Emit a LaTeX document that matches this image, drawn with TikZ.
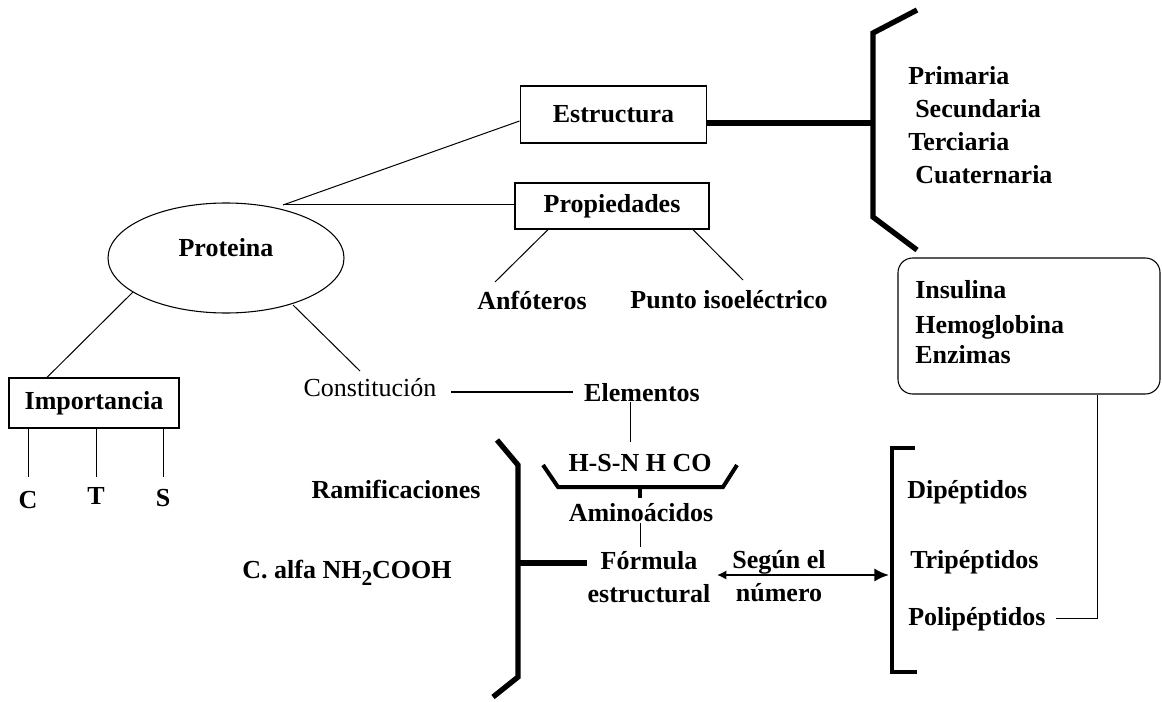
\documentclass[tikz,border=0pt]{standalone}
\usepackage{fontspec}
\setmainfont{Liberation Serif}
\usetikzlibrary{shapes.geometric,arrows.meta}
\begin{document}
\begin{tikzpicture}[x=0.75pt,y=-0.75pt,
  every node/.style={font=\fontsize{19.5}{24.75}\selectfont\bfseries, inner sep=0pt},
  box/.style={draw, line width=0.9pt},
  thinline/.style={line width=0.75pt},
  heavy/.style={line width=4pt},
  bracket/.style={line width=3pt},
  sqbracket/.style={line width=2.6pt},
  txt/.style={anchor=base west}
]
\useasboundingbox (0,0) rectangle (1162,702);

% main nodes
\node[box, minimum width=140pt, minimum height=42.75pt] (estr) at (613.5,114.5) {Estructura};
\node[box, minimum width=145.5pt, minimum height=34.5pt] (prop) at (612,206) {Propiedades};
\node[draw, ellipse, line width=0.8pt, minimum width=177pt, minimum height=82.5pt,
      label={[yshift=8pt]center:Proteina}] (prot) at (226,258) {};
\node[box, minimum width=127.5pt, minimum height=37.5pt] (imp) at (94,403) {Importancia};

\node (c) at (28,500) {C};
\node (t) at (96,496) {T};
\node (s) at (163,498) {S};

\node (anf) at (532,300) {Anfóteros};
\node (pun) at (729,300) {Punto isoeléctrico};

\node[font=\fontsize{19.5}{24.75}\selectfont] (const) at (370,388) {Constitución};
\node (elem) at (642,393) {Elementos};
\node (hsn) at (640,463) {H-S-N H CO};
\node (amino) at (641,513) {Aminoácidos};
\node[align=center] (form) at (649,577) {Fórmula\\estructural};
\node[align=center] (seg) at (779,576) {Según el\\número};
\node (ram) at (396,489) {Ramificaciones};
\node (calfa) at (347,573) {C. alfa NH\raisebox{-5pt}{\fontsize{16}{16}\selectfont 2}COOH};

% right top list
\node[txt] (pri) at (908,85) {Primaria};
\node[txt] (sec) at (915,118) {Secundaria};
\node[txt] (ter) at (908,151) {Terciaria};
\node[txt] (cua) at (915,184) {Cuaternaria};

% rounded box
\node[draw, rounded corners=11pt, line width=0.8pt, minimum width=196.5pt, minimum height=102pt] (ihe) at (1029,326) {};
\node[txt] (ins) at (915,298) {Insulina};
\node[txt] (hem) at (915,333) {Hemoglobina};
\node[txt] (enz) at (915,363) {Enzimas};

% peptides
\node[txt] (dip) at (907,498) {Dipéptidos};
\node[txt] (tri) at (910,568) {Tripéptidos};
\node[txt] (pol) at (908,625) {Polipéptidos};

% coordinates
\coordinate (pj) at (283,205);
\coordinate (pi) at (133,292);
\coordinate (pc) at (293,305);
\coordinate (ce) at (360,371);
\coordinate (bt) at (873,123);
\coordinate (e1) at (630,442);
\coordinate (lb) at (518,563);
\coordinate (al) at (717,575);
\coordinate (ar) at (889,575);
\coordinate (pk) at (1097,618);

% connectors
\draw[thinline] (pj) -- (estr.west |- 0,121);
\draw[thinline] (pj) -- (pj -| prop.west);
\draw[thinline] (pi) -- (imp.north -| 47,0);
\draw[thinline] (pc) -- (ce);
\draw[thinline] (prop.south -| 548,0) -- (495,282);
\draw[thinline] (prop.south -| 693,0) -- (743,280);
\draw[thinline] (imp.south -| c) -- (c |- 0,477);
\draw[thinline] (imp.south -| t) -- (t |- 0,477);
\draw[thinline] (imp.south -| s) -- (s |- 0,477);
\draw[line width=1.1pt] ([xshift=11pt]const.east |- 0,392) -- ([xshift=-8pt]elem.west |- 0,392);
\draw[thinline] (e1 |- elem.south) -- (e1);
\draw[thinline] (640,523) -- (640,547);

% Estructura thick link and brace
\draw[line width=5pt] (estr.east |- bt) -- (bt);
\draw[heavy] (917,10) -- (873,33) -- (873,217) -- (917,250);

% H-S-N brace
\draw[bracket] (543,465) -- (558,487) -- (723,487) -- (737,465);
\draw[bracket] (640,487) -- (640,498);

% large left brace
\draw[heavy] (497,440) -- (518,465) -- (518,677) -- (493,697);
\draw[heavy] (lb) -- (lb -| form.west);

% arrow
\draw[line width=1.8pt, {Latex[length=7pt,width=7pt]}-{Latex[length=11pt,width=10pt]}] (al) -- (ar);

% peptide bracket
\draw[sqbracket] (915,448) -- (892,448) -- (892,672) -- (917,672);
\draw[thinline] ([xshift=7.5pt]pol.east |- pk) -- (pk) -- (pk |- ihe.south);
\end{tikzpicture}
\end{document}
